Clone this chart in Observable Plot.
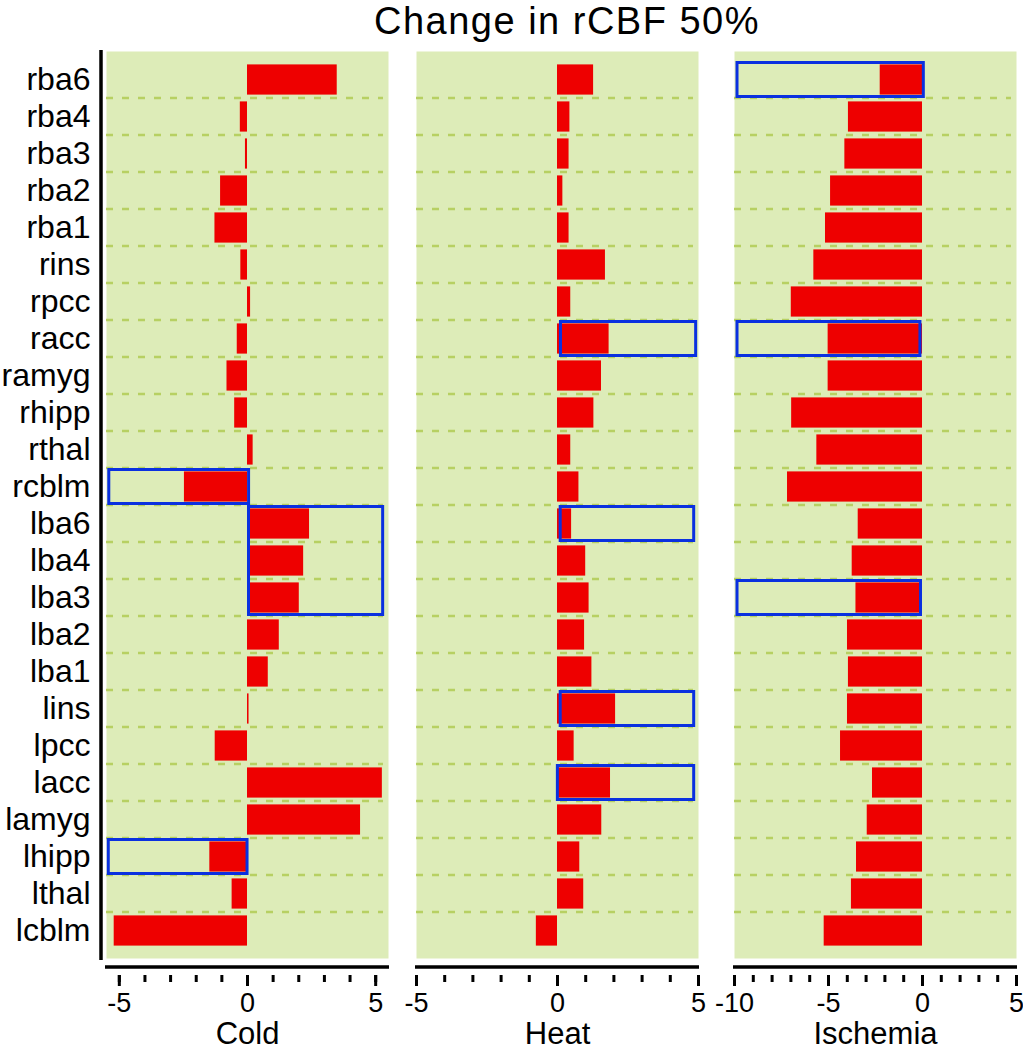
<!DOCTYPE html>
<html><head><meta charset="utf-8">
<script src="https://cdn.jsdelivr.net/npm/d3@7"></script>
<script src="https://cdn.jsdelivr.net/npm/@observablehq/plot@0.6"></script>
<style>
body{margin:0;background:#fff;font-family:"Liberation Sans",Arial,sans-serif;}
#chart{position:relative;width:1023px;height:1050px;overflow:hidden;}
#title{position:absolute;top:0px;left:567px;transform:translateX(-50%);font-size:38px;line-height:43px;letter-spacing:1.5px;white-space:nowrap;color:#000;}
</style></head><body>
<div id="chart"><div id="title">Change in rCBF 50%</div></div>
<script>
// ---- data ----
const regions = ["rba6","rba4","rba3","rba2","rba1","rins","rpcc","racc","ramyg","rhipp","rthal","rcblm",
                 "lba6","lba4","lba3","lba2","lba1","lins","lpcc","lacc","lamyg","lhipp","lthal","lcblm"];
const cold = [3.5, -0.28, -0.08, -1.05, -1.27, -0.26, 0.12, -0.4, -0.8, -0.5, 0.22, -2.46,
              2.42, 2.19, 2.02, 1.24, 0.81, 0.06, -1.26, 5.26, 4.41, -1.47, -0.6, -5.2];
const heat = [1.28, 0.44, 0.41, 0.19, 0.41, 1.7, 0.47, 1.83, 1.56, 1.29, 0.47, 0.76,
              0.5, 1.0, 1.12, 0.96, 1.22, 2.06, 0.59, 1.88, 1.57, 0.79, 0.93, -0.75];
const ischemia = [-2.25, -3.94, -4.13, -4.89, -5.16, -5.78, -6.98, -5.02, -5.02, -6.96, -5.62, -7.18,
                  -3.42, -3.74, -3.54, -3.99, -3.94, -3.99, -4.36, -2.66, -2.94, -3.51, -3.78, -5.23];

const coldBoxStart = ["rcblm", "lba6", "lhipp"];
const coldBoxEnd   = ["rcblm", "lba3", "lhipp"];
const coldBoxFrom  = [-5.45, 0.0, -5.47];
const coldBoxTo    = [0.12, 5.35, 0.06];

const heatBoxStart = ["racc", "lba6", "lins", "lacc"];
const heatBoxEnd   = ["racc", "lba6", "lins", "lacc"];
const heatBoxFrom  = [0.07, 0.06, 0.06, -0.04];
const heatBoxTo    = [4.97, 4.9, 4.9, 4.9];

const ischBoxStart = ["rba6", "racc", "lba3"];
const ischBoxEnd   = ["rba6", "racc", "lba3"];
const ischBoxFrom  = [-9.92, -9.92, -9.92];
const ischBoxTo    = [0.15, -0.03, 0.0];

const coldTicks = [-5, 0, 5];
const heatTicks = [-5, 0, 5];
const ischTicks = [-10, -5, 0, 5];
const coldMinor = d3.range(-5, 6);
const heatMinor = d3.range(-5, 6);
const ischMinor = d3.range(-10, 6);

// ---- style / layout ----
const BG = "#ddecb8", DASH = "#b7d062", RED = "#ee0000", BLUE = "#0a30e0";
const H = 1050, TOP = 51, BOTTOM = 958, AXIS_Y = 975;
const bw = (BOTTOM - TOP) / regions.length;
const FONT = "'Liberation Sans', Arial, sans-serif";

const panels = [
  {name: "Cold", values: cold, domain: [-5.5, 5.5], major: coldTicks, minor: coldMinor,
   bs: coldBoxStart, be: coldBoxEnd, bf: coldBoxFrom, bt: coldBoxTo,
   left: 0, width: 400, marginLeft: 106, marginRight: 12, showY: true},
  {name: "Heat", values: heat, domain: [-5, 5], major: heatTicks, minor: heatMinor,
   bs: heatBoxStart, be: heatBoxEnd, bf: heatBoxFrom, bt: heatBoxTo,
   left: 400, width: 310, marginLeft: 16, marginRight: 12, showY: false},
  {name: "Ischemia", values: ischemia, domain: [-10, 5], major: ischTicks, minor: ischMinor,
   bs: ischBoxStart, be: ischBoxEnd, bf: ischBoxFrom, bt: ischBoxTo,
   left: 710, width: 313, marginLeft: 24, marginRight: 7, showY: false}
];

const chart = document.getElementById("chart");
for (const p of panels) {
  const rows = regions.map((r, i) => ({region: r, value: p.values[i]}));
  const boxes = p.bs.map((s, i) => ({start: s, end: p.be[i], from: p.bf[i], to: p.bt[i]}));
  const marks = [
    Plot.frame({fill: BG, stroke: null, insetBottom: AXIS_Y - BOTTOM}),
    Plot.ruleY(regions.slice(1), {y: d => d, dy: -bw / 2, stroke: DASH, strokeWidth: 2.5, strokeDasharray: "7,9", insetRight: 5}),
    Plot.barX(rows, {x: "value", y: "region", fill: RED, insetTop: 3.4, insetBottom: 3.4}),
    Plot.rect(boxes, {x1: "from", x2: "to", y1: "start", y2: "end", fill: "none", stroke: BLUE, strokeWidth: 3, inset: 1.5}),
    Plot.ruleY([regions[regions.length - 1]], {y: d => d, dy: bw / 2 + (AXIS_Y - BOTTOM), stroke: "#000", strokeWidth: 3.5, insetLeft: -1, insetRight: -1}),
    Plot.axisX({ticks: p.minor, tickSize: 7, strokeWidth: 3, tickFormat: () => "", label: null}),
    Plot.axisX({ticks: p.major, tickSize: 11, strokeWidth: 3, tickPadding: 6, fontSize: 27, tickFormat: d => `${d}`, label: null}),
    Plot.text([p.name], {text: d => d, frameAnchor: "bottom", dy: 68, fontSize: 31, fill: "#000"})
  ];
  if (p.showY) {
    marks.push(
      Plot.ruleX([p.domain[0]], {x: d => d, dx: -5.5, stroke: "#000", strokeWidth: 3.5, insetTop: -1, insetBottom: AXIS_Y - BOTTOM - 2}),
      Plot.axisY({tickSize: 0, tickPadding: 16, fontSize: 32, label: null})
    );
  }
  const svg = Plot.plot({
    width: p.width, height: H,
    marginTop: TOP, marginBottom: H - AXIS_Y, marginLeft: p.marginLeft, marginRight: p.marginRight,
    style: {background: "transparent", overflow: "visible", fontFamily: FONT, color: "#000"},
    x: {domain: p.domain},
    y: p.showY ? {type: "band", domain: regions, range: [TOP, BOTTOM], padding: 0}
               : {type: "band", domain: regions, range: [TOP, BOTTOM], padding: 0, axis: null},
    marks
  });
  svg.style.position = "absolute";
  svg.style.left = p.left + "px";
  svg.style.top = "0px";
  chart.appendChild(svg);
}
</script>
</body></html>
